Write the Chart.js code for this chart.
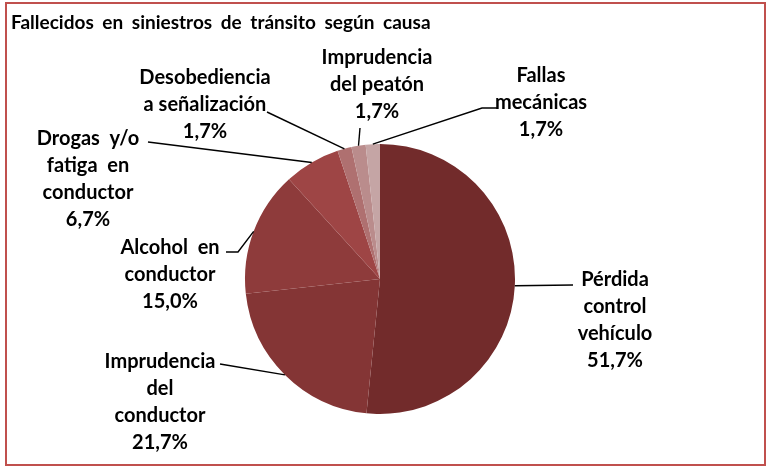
<!DOCTYPE html>
<html>
<head>
<meta charset="utf-8">
<script src="https://cdn.jsdelivr.net/npm/chart.js@4"></script>
<style>
    html, body { margin: 0; padding: 0; background: #fff; }
    #wrap { position: relative; width: 769px; height: 469px; }
</style>
</head>
<body>
<div id="wrap"><canvas id="pieChart" width="769" height="469"></canvas></div>
<script>
const chartTitle = 'Fallecidos en siniestros de tránsito según causa';

// categories (label text, split into lines as in the picture)
const causes = [
    ['Pérdida', 'control', 'vehículo'],
    ['Imprudencia', 'del', 'conductor'],
    ['Alcohol  en', 'conductor'],
    ['Drogas  y/o', 'fatiga  en', 'conductor'],
    ['Desobediencia', 'a señalización'],
    ['Imprudencia', 'del peatón'],
    ['Fallas', 'mecánicas']
];
const percents = [51.7, 21.7, 15.0, 6.7, 1.7, 1.7, 1.7];
const sliceColors = ['#722B2B', '#843535', '#8E3B3B', '#9E4545', '#AF7070', '#BA8C8C', '#C5A5A5'];

// where each label sits and where its leader line bends (layout only)
const labelLayout = [
    { x: 615, y: 280, path: [[573, 285]] },
    { x: 160, y: 362, path: [[220, 364]] },
    { x: 170, y: 248, path: [[238, 252], [226, 252]] },
    { x: 88,  y: 139, path: [[148, 142]] },
    { x: 205, y: 78,  path: [[267, 112]] },
    { x: 377, y: 58,  path: [[360, 128]] },
    { x: 541, y: 76,  path: [[482, 108], [497, 108]] }
];

const fmtPct = v => v.toFixed(1).replace('.', ',') + '%';

const labelsPlugin = {
    id: 'pieLabels',
    beforeDraw(chart) {
        const ctx = chart.ctx;
        ctx.save();
        ctx.strokeStyle = '#C0504D';
        ctx.lineWidth = 2;
        ctx.strokeRect(6, 3, 759, 462);
        ctx.fillStyle = '#000';
        ctx.font = 'bold 19px Lato';
        ctx.wordSpacing = '4px';
        ctx.textAlign = 'left';
        ctx.textBaseline = 'middle';
        ctx.fillText(chartTitle, 11, 23);
        ctx.restore();
    },
    afterDraw(chart) {
        const ctx = chart.ctx;
        const meta = chart.getDatasetMeta(0);
        ctx.save();
        meta.data.forEach((arc, i) => {
            const p = arc.getProps(['x', 'y', 'startAngle', 'endAngle', 'outerRadius'], true);
            const mid = (p.startAngle + p.endAngle) / 2;
            const sx = p.x + Math.cos(mid) * p.outerRadius;
            const sy = p.y + Math.sin(mid) * p.outerRadius;
            const lay = labelLayout[i];

            ctx.strokeStyle = '#000';
            ctx.lineWidth = 1.4;
            ctx.beginPath();
            ctx.moveTo(sx, sy);
            lay.path.forEach(pt => ctx.lineTo(pt[0], pt[1]));
            ctx.stroke();

            const lines = causes[i].concat([fmtPct(percents[i])]);
            ctx.fillStyle = '#000';
            ctx.font = 'bold 20px Lato';
            ctx.textAlign = 'center';
            ctx.textBaseline = 'middle';
            lines.forEach((t, k) => ctx.fillText(t, lay.x, lay.y + k * 27));
        });
        ctx.restore();
    }
};

new Chart(document.getElementById('pieChart'), {
    type: 'pie',
    data: {
        labels: causes.map(c => c.join(' ')),
        datasets: [{
            data: percents,
            backgroundColor: sliceColors,
            borderWidth: 0
        }]
    },
    options: {
        responsive: false,
        animation: false,
        layout: { padding: { left: 245, right: 254, top: 144, bottom: 55 } },
        plugins: {
            legend: { display: false },
            title: { display: false },
            tooltip: { enabled: false }
        }
    },
    plugins: [labelsPlugin]
});
</script>
</body>
</html>
